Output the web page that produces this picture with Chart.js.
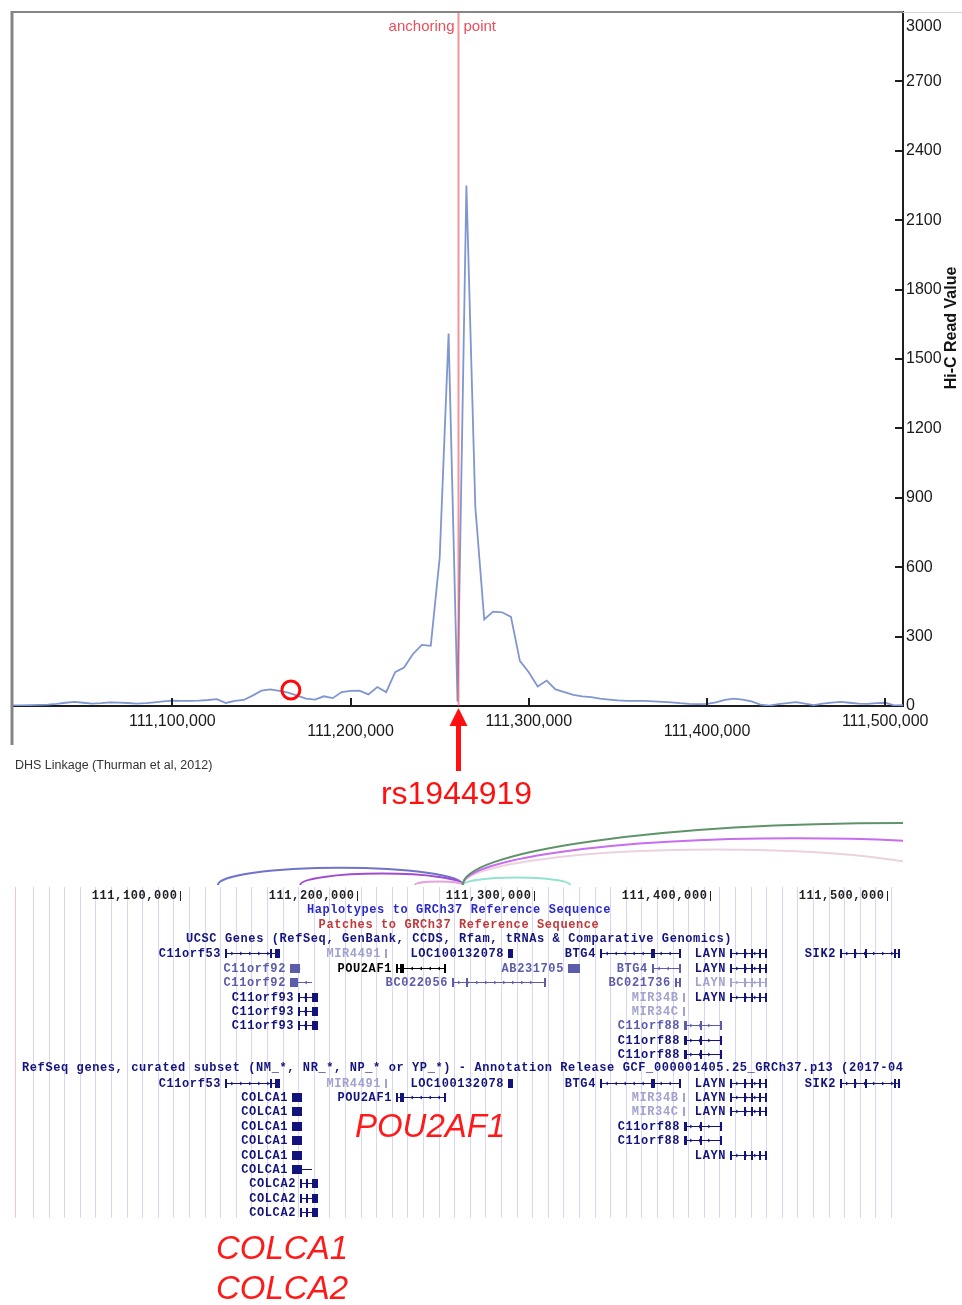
<!DOCTYPE html>
<html>
<head>
<meta charset="utf-8">
<script src="https://cdn.jsdelivr.net/npm/chart.js@4.4.1/dist/chart.umd.min.js"></script>
<style>
  html, body { margin: 0; padding: 0; background: #fff; }
  #wrap { position: relative; width: 962px; height: 1305px; overflow: hidden; background: #fff; }
  #hicChart { position: absolute; left: 0; top: 0; }
  #genesChart { position: absolute; left: 0; top: 812px; }
</style>
</head>
<body>
<div id="wrap">
  <canvas id="hicChart" width="962" height="812"></canvas>
  <canvas id="genesChart" width="962" height="493"></canvas>
</div>
<script>
// Hi-C read values in 5 kb bins around rs1944919 (chr11, kb)
var binKb = [
  111010, 111015, 111020, 111025, 111030, 111035, 111040, 111045, 111050, 111055,
  111060, 111065, 111070, 111075, 111080, 111085, 111090, 111095, 111100, 111105,
  111110, 111115, 111120, 111125, 111130, 111135, 111140, 111145, 111150, 111155,
  111160, 111165, 111170, 111175, 111180, 111185, 111190, 111195, 111200, 111205,
  111210, 111215, 111220, 111225, 111230, 111235, 111240, 111245, 111250, 111255,
  111260, 111265, 111270, 111275, 111280, 111285, 111290, 111295, 111300, 111305,
  111310, 111315, 111320, 111325, 111330, 111335, 111340, 111345, 111350, 111355,
  111360, 111365, 111370, 111375, 111380, 111385, 111390, 111395, 111400, 111405,
  111410, 111415, 111420, 111425, 111430, 111435, 111440, 111445, 111450, 111455,
  111460, 111465, 111470, 111475, 111480, 111485, 111490, 111495, 111500, 111505,
  111510
];
var hicValues = [
  3, 3, 4, 5, 6, 9, 14, 18, 14, 10,
  12, 16, 15, 13, 10, 12, 16, 20, 23, 22,
  22, 23, 26, 30, 13, 22, 26, 45, 66, 72,
  65, 58, 45, 32, 28, 42, 34, 60, 65, 66,
  50, 82, 60, 146, 166, 225, 264, 260, 640, 1610,
  20, 2250, 860, 374, 408, 405, 385, 195, 146, 84,
  110, 72, 60, 48, 42, 38, 32, 28, 24, 22,
  22, 22, 20, 18, 16, 12, 9, 8, 9, 16,
  26, 32, 28, 20, 6, 2, 8, 12, 17, 10,
  4, 10, 15, 18, 14, 10, 9, 12, 14, 3,
  4
];
var anchorPos = 111260000;
var circledPos = [111166500];
var circledValue = [69];
var xTickValues = [111100000, 111200000, 111300000, 111400000, 111500000];
var yTickValues = [0, 300, 600, 900, 1200, 1500, 1800, 2100, 2400, 2700, 3000];

// genome browser panel (chr11, GRCh37)
var rulerTicks = [111100000, 111200000, 111300000, 111400000, 111500000];
var trackTitles = [
  ['Haplotypes to GRCh37 Reference Sequence', 1, 'hap'],
  ['Patches to GRCh37 Reference Sequence', 2, 'patch'],
  ['UCSC Genes (RefSeq, GenBank, CCDS, Rfam, tRNAs & Comparative Genomics)', 3, 'track'],
  ['RefSeq genes, curated subset (NM_*, NR_*, NP_* or YP_*) - Annotation Release GCF_000001405.25_GRCh37.p13 (2017-04-12)', 12, 'trackLeft']
];
// model: [start, end, strand, exons]
var geneModels = {
  C11orf53: [111125500, 111156600, '+', [[111125500, 111126300], [111150900, 111151600], [111153800, 111156600]]],
  MIR4491: [111216000, 111216600, '+', [[111216000, 111216600]]],
  LOC100132078: [111285600, 111288400, '+', [[111285600, 111288400]]],
  BTG4: [111337600, 111382900, '-', [[111337600, 111338200], [111366400, 111368400], [111382300, 111382900]]],
  BTG4s: [111367000, 111382900, '-', [[111367000, 111367600], [111382300, 111382900]]],
  LAYN: [111411200, 111431600, '+', [[111411200, 111412600], [111419300, 111420000], [111423300, 111424000], [111427600, 111428400], [111430800, 111431600]]],
  SIK2: [111473400, 111507400, '+', [[111473400, 111474000], [111481600, 111482300], [111487300, 111488000], [111504200, 111504800], [111506400, 111507400]]],
  C11orf92a: [111162200, 111168000, '-', [[111162200, 111168000]]],
  C11orf92b: [111162200, 111174700, '-', [[111162200, 111167000]]],
  POU2AF1: [111222200, 111250000, '-', [[111222200, 111223600], [111224500, 111226700], [111249400, 111250000]]],
  AB231705: [111319500, 111326300, '+', [[111319500, 111326300]]],
  BC022056: [111253900, 111306500, '+', [[111253900, 111254500], [111262000, 111263000], [111306000, 111306500]]],
  BC021736: [111380000, 111382900, '-', [[111380000, 111380600], [111382300, 111382900]]],
  C11orf93: [111166800, 111178100, '-', [[111166800, 111167800], [111170500, 111171300], [111174600, 111178100]]],
  MIR34B: [111384300, 111384900, '+', [[111384300, 111384900]]],
  MIR34C: [111384300, 111384900, '+', [[111384300, 111384900]]],
  C11orf88: [111385200, 111406700, '+', [[111385200, 111386800], [111394000, 111394700], [111405400, 111406700]]],
  COLCA1: [111163400, 111169000, '-', [[111163400, 111169000]]],
  COLCA1b: [111163400, 111174700, '-', [[111163400, 111169000]]],
  COLCA2: [111167900, 111178100, '-', [[111167900, 111168600], [111171200, 111171900], [111174600, 111178100]]]
};
// placement: [row, model, label, tone]
var genePlacements = [
  [4, 'C11orf53', 'C11orf53', 'dark'], [4, 'MIR4491', 'MIR4491', 'light'], [4, 'LOC100132078', 'LOC100132078', 'dark'],
  [4, 'BTG4', 'BTG4', 'dark'], [4, 'LAYN', 'LAYN', 'dark'], [4, 'SIK2', 'SIK2', 'dark'],
  [5, 'C11orf92a', 'C11orf92', 'mid'], [5, 'POU2AF1', 'POU2AF1', 'black'], [5, 'AB231705', 'AB231705', 'mid'],
  [5, 'BTG4s', 'BTG4', 'mid'], [5, 'LAYN', 'LAYN', 'dark'],
  [6, 'C11orf92b', 'C11orf92', 'mid'], [6, 'BC022056', 'BC022056', 'mid'], [6, 'BC021736', 'BC021736', 'mid'], [6, 'LAYN', 'LAYN', 'light'],
  [7, 'C11orf93', 'C11orf93', 'dark'], [7, 'MIR34B', 'MIR34B', 'light'], [7, 'LAYN', 'LAYN', 'dark'],
  [8, 'C11orf93', 'C11orf93', 'dark'], [8, 'MIR34C', 'MIR34C', 'light'],
  [9, 'C11orf93', 'C11orf93', 'dark'], [9, 'C11orf88', 'C11orf88', 'mid'],
  [10, 'C11orf88', 'C11orf88', 'dark'],
  [11, 'C11orf88', 'C11orf88', 'dark'],
  [13, 'C11orf53', 'C11orf53', 'dark'], [13, 'MIR4491', 'MIR4491', 'light'], [13, 'LOC100132078', 'LOC100132078', 'dark'],
  [13, 'BTG4', 'BTG4', 'dark'], [13, 'LAYN', 'LAYN', 'dark'], [13, 'SIK2', 'SIK2', 'dark'],
  [14, 'COLCA1', 'COLCA1', 'dark'], [14, 'POU2AF1', 'POU2AF1', 'dark'], [14, 'MIR34B', 'MIR34B', 'light'], [14, 'LAYN', 'LAYN', 'dark'],
  [15, 'COLCA1', 'COLCA1', 'dark'], [15, 'MIR34C', 'MIR34C', 'light'], [15, 'LAYN', 'LAYN', 'dark'],
  [16, 'COLCA1', 'COLCA1', 'dark'], [16, 'C11orf88', 'C11orf88', 'dark'],
  [17, 'COLCA1', 'COLCA1', 'dark'], [17, 'C11orf88', 'C11orf88', 'dark'],
  [18, 'COLCA1', 'COLCA1', 'dark'], [18, 'LAYN', 'LAYN', 'dark'],
  [19, 'COLCA1b', 'COLCA1', 'dark'],
  [20, 'COLCA2', 'COLCA2', 'dark'], [21, 'COLCA2', 'COLCA2', 'dark'], [22, 'COLCA2', 'COLCA2', 'dark']
];
// DHS linkage: [from, to, colour key]
var dhsLinks = [
  [anchorPos, 111121500, 'blue'], [anchorPos, 111168000, 'purple'], [anchorPos, 111233000, 'pink'],
  [anchorPos, 111320700, 'cyan'], [anchorPos, 111546000, 'rose'], [anchorPos, 111637000, 'violet'],
  [anchorPos, 111760000, 'green']
];
var callouts = [['POU2AF1', 111241500, 16.16], ['COLCA1', 111157700, 24.65], ['COLCA2', 111157700, 27.44]];

var SANS = '"Liberation Sans", Arial, sans-serif';
var MONO = '"Liberation Mono", "DejaVu Sans Mono", monospace';
var toneColors = { dark: '#13137c', mid: '#5c5caa', light: '#a2a2d0', black: '#000000' };
var linkColors = { blue: '#6f74c9', purple: '#a24bd2', pink: '#e3a6d8', cyan: '#93e2d0', rose: '#ecd2df', violet: '#c86cf0', green: '#5f9469' };
var titleColors = { hap: '#2b2bc4', patch: '#c03a3a', track: '#13137c', trackLeft: '#13137c' };

var hicDecor = {
  id: 'hicDecor',
  afterDatasetsDraw: function (chart) {
    var ctx = chart.ctx, area = chart.chartArea;
    var ax = Math.round(chart.scales.x.getPixelForValue(anchorPos)) + 0.5;
    ctx.save();
    ctx.strokeStyle = 'rgba(236, 80, 92, 0.62)';
    ctx.lineWidth = 2;
    ctx.beginPath();
    ctx.moveTo(ax, area.top);
    ctx.lineTo(ax, area.bottom);
    ctx.stroke();
    ctx.restore();
  },
  afterDraw: function (chart) {
    var ctx = chart.ctx, area = chart.chartArea;
    var xs = chart.scales.x, ys = chart.scales.y;
    var ax = Math.round(xs.getPixelForValue(anchorPos)) + 0.5;
    ctx.save();

    // frame
    ctx.strokeStyle = '#d2d2d2';
    ctx.lineWidth = 1;
    ctx.beginPath(); ctx.moveTo(area.right, area.top + 0.5); ctx.lineTo(chart.width, area.top + 0.5); ctx.stroke();
    ctx.strokeStyle = '#858585';
    ctx.lineWidth = 2;
    ctx.beginPath(); ctx.moveTo(area.left, area.top); ctx.lineTo(area.right, area.top); ctx.stroke();
    ctx.lineWidth = 3;
    ctx.beginPath(); ctx.moveTo(area.left, area.top - 1); ctx.lineTo(area.left, 745); ctx.stroke();

    // inner tick marks
    ctx.strokeStyle = '#1e1e1e';
    ctx.lineWidth = 2;
    ys.ticks.forEach(function (t) {
      if (t.value === 0 || t.value === 3000) return;
      var y = Math.round(ys.getPixelForValue(t.value));
      ctx.beginPath(); ctx.moveTo(area.right - 8, y); ctx.lineTo(area.right, y); ctx.stroke();
    });
    xs.ticks.forEach(function (t) {
      var x = Math.round(xs.getPixelForValue(t.value));
      ctx.beginPath(); ctx.moveTo(x, area.bottom - 8); ctx.lineTo(x, area.bottom); ctx.stroke();
    });

    // anchoring point label
    ctx.fillStyle = '#ec4e5b';
    ctx.font = '15px ' + SANS;
    ctx.textBaseline = 'middle';
    ctx.textAlign = 'right';
    ctx.fillText('anchoring', ax - 4, 27);
    ctx.textAlign = 'left';
    ctx.fillText('point', ax + 5, 27);

    // y axis title, reading upwards
    ctx.save();
    ctx.translate(952, 328);
    ctx.rotate(-Math.PI / 2);
    ctx.fillStyle = '#151515';
    ctx.font = 'bold 16px ' + SANS;
    ctx.textAlign = 'center';
    ctx.fillText('Hi-C Read Value', 0, 0);
    ctx.restore();

    // SNP arrow and label
    ctx.fillStyle = '#ff1010';
    ctx.beginPath();
    ctx.moveTo(ax, area.bottom + 2);
    ctx.lineTo(ax + 9, area.bottom + 20);
    ctx.lineTo(ax - 9, area.bottom + 20);
    ctx.closePath();
    ctx.fill();
    ctx.fillRect(ax - 2.5, area.bottom + 19, 5, 46);
    ctx.font = '32px ' + SANS;
    ctx.textAlign = 'center';
    ctx.fillText('rs1944919', ax - 2, 795);

    ctx.fillStyle = '#333';
    ctx.font = '12.5px ' + SANS;
    ctx.textAlign = 'left';
    ctx.fillText('DHS Linkage (Thurman et al, 2012)', 15, 766);
    ctx.restore();
  }
};

new Chart(document.getElementById('hicChart'), {
  type: 'line',
  data: {
    datasets: [{
      label: 'Circled',
      type: 'scatter',
      data: circledPos.map(function (p, i) { return { x: p, y: circledValue[i] }; }),
      pointRadius: 9,
      pointBorderWidth: 3,
      pointBorderColor: '#ff0a0a',
      pointBackgroundColor: 'rgba(0,0,0,0)',
      order: 0
    }, {
      label: 'Hi-C Read Value',
      data: binKb.map(function (kb, i) { return { x: kb * 1000, y: hicValues[i] }; }),
      borderColor: '#8096d1',
      borderWidth: 1.8,
      pointRadius: 0,
      tension: 0,
      fill: false,
      order: 1
    }]
  },
  options: {
    responsive: false,
    animation: false,
    layout: { padding: { left: 12, top: 11, right: 0, bottom: 0 } },
    plugins: { legend: { display: false }, tooltip: { enabled: false } },
    scales: {
      x: {
        type: 'linear',
        min: 111010000,
        max: 111510000,
        afterBuildTicks: function (scale) { scale.ticks = xTickValues.map(function (v) { return { value: v }; }); },
        afterFit: function (scale) { scale.height = 106; scale.paddingLeft = 0; scale.paddingRight = 0; },
        grid: { display: false, drawTicks: false },
        border: { display: true, color: '#1e1e1e', width: 2 },
        ticks: {
          padding: 11,
          maxRotation: 0,
          autoSkip: false,
          color: '#1a1a1a',
          font: { family: SANS, size: 16, lineHeight: 0.625 },
          callback: function (v) {
            var s = Number(v).toLocaleString('en-US');
            return Math.round(v / 100000) % 2 === 0 ? ['', s] : s;
          }
        }
      },
      y: {
        type: 'linear',
        position: 'right',
        min: 0,
        max: 3000,
        afterBuildTicks: function (scale) { scale.ticks = yTickValues.map(function (v) { return { value: v }; }); },
        afterFit: function (scale) { scale.width = 59; scale.paddingTop = 0; scale.paddingBottom = 0; },
        grid: { display: false, drawTicks: false },
        border: { display: true, color: '#1e1e1e', width: 2 },
        ticks: {
          padding: 3,
          color: '#1a1a1a',
          font: function (c) {
            return { family: SANS, size: 16, lineHeight: (c.tick && c.tick.value === 3000) ? 1.875 : 1.2 };
          },
          callback: function (v) { return v === 3000 ? ['', '3000'] : String(v); }
        }
      }
    }
  },
  plugins: [hicDecor]
});

function drawGene(ctx, xs, y, model, label, tone) {
  var x0 = xs.getPixelForValue(model[0]), x1 = xs.getPixelForValue(model[1]);
  var col = toneColors[tone];
  ctx.fillStyle = col;
  ctx.strokeStyle = col;
  ctx.lineWidth = 1;
  if (x1 - x0 > 3) {
    ctx.beginPath(); ctx.moveTo(x0, y + 0.5); ctx.lineTo(x1, y + 0.5); ctx.stroke();
    // small strand ticks on introns
    var dir = model[2] === '+' ? 1 : -1;
    for (var cx = x0 + 7; cx < x1 - 5; cx += 9) {
      ctx.beginPath();
      ctx.moveTo(cx - dir, y - 1); ctx.lineTo(cx + dir, y + 0.5); ctx.lineTo(cx - dir, y + 2);
      ctx.stroke();
    }
  }
  model[3].forEach(function (ex) {
    var a = xs.getPixelForValue(ex[0]), b = xs.getPixelForValue(ex[1]);
    ctx.fillRect(Math.round(a), y - 4, Math.max(2, Math.round(b - a)), 9);
  });
  ctx.textAlign = 'right';
  ctx.fillText(label, x0 - 4, y + 1);
}

var browserPlugin = {
  id: 'browser',
  afterDraw: function (chart) {
    var ctx = chart.ctx, xs = chart.scales.x, ys = chart.scales.y, area = chart.chartArea;
    ctx.save();

    // pixel guide lines
    var gTop = ys.getPixelForValue(-0.63), gBot = ys.getPixelForValue(22.4);
    ctx.lineWidth = 1;
    ctx.strokeStyle = '#f5c4c4';
    ctx.beginPath(); ctx.moveTo(area.left + 0.5, gTop); ctx.lineTo(area.left + 0.5, gBot); ctx.stroke();
    ctx.strokeStyle = '#d7d7f5';
    for (var gx = area.left + 18; gx < area.right - 8; gx += 15.6) {
      ctx.beginPath(); ctx.moveTo(Math.round(gx) + 0.5, gTop); ctx.lineTo(Math.round(gx) + 0.5, gBot); ctx.stroke();
    }

    // DHS linkage arcs
    ctx.save();
    ctx.beginPath(); ctx.rect(area.left, area.top, area.right - area.left, area.bottom - area.top); ctx.clip();
    var baseY = ys.getPixelForValue(-0.77);
    ctx.lineWidth = 2;
    dhsLinks.forEach(function (l) {
      var a = xs.getPixelForValue(l[0]), b = xs.getPixelForValue(l[1]);
      var span = Math.abs(b - a);
      ctx.strokeStyle = linkColors[l[2]];
      ctx.beginPath();
      ctx.ellipse((a + b) / 2, baseY, span / 2, span * 0.07, 0, Math.PI, 2 * Math.PI);
      ctx.stroke();
    });
    ctx.restore();

    ctx.textBaseline = 'middle';
    ctx.letterSpacing = '0.6px';

    // ruler
    ctx.font = 'bold 12px ' + MONO;
    ctx.fillStyle = '#222';
    ctx.strokeStyle = '#222';
    var ry = ys.getPixelForValue(0);
    rulerTicks.forEach(function (p) {
      var x = Math.round(xs.getPixelForValue(p)) + 0.5;
      ctx.textAlign = 'right';
      ctx.fillText(Number(p).toLocaleString('en-US'), x - 3, ry);
      ctx.beginPath(); ctx.moveTo(x, ry - 5); ctx.lineTo(x, ry + 5); ctx.stroke();
    });

    // track titles
    ctx.font = 'bold 12px ' + MONO;
    trackTitles.forEach(function (t) {
      ctx.fillStyle = titleColors[t[2]];
      var y = ys.getPixelForValue(t[1]);
      if (t[2] === 'trackLeft') {
        ctx.save();
        ctx.beginPath(); ctx.rect(area.left, 0, area.right - area.left, chart.height); ctx.clip();
        ctx.textAlign = 'left';
        ctx.fillText(t[0], area.left + 7, y);
        ctx.restore();
      } else {
        ctx.textAlign = 'center';
        ctx.fillText(t[0], (area.left + area.right) / 2, y);
      }
    });

    // genes
    ctx.font = 'bold 12px ' + MONO;
    genePlacements.forEach(function (g) {
      drawGene(ctx, xs, Math.round(ys.getPixelForValue(g[0])), geneModels[g[1]], g[2], g[3]);
    });

    // red gene call-outs
    ctx.letterSpacing = '0px';
    ctx.font = 'italic 33px ' + SANS;
    ctx.fillStyle = '#ff1a1a';
    ctx.textAlign = 'center';
    callouts.forEach(function (c) {
      ctx.fillText(c[0], xs.getPixelForValue(c[1]), ys.getPixelForValue(c[2]));
    });
    ctx.restore();
  }
};

new Chart(document.getElementById('genesChart'), {
  type: 'scatter',
  data: { datasets: [] },
  options: {
    responsive: false,
    animation: false,
    layout: { padding: { left: 15, right: 59, top: 0, bottom: 0 } },
    plugins: { legend: { display: false }, tooltip: { enabled: false } },
    scales: {
      x: { type: 'linear', min: 111006650, max: 111509050, display: false },
      y: { type: 'linear', min: -5.85, max: 28.48, reverse: true, display: false }
    }
  },
  plugins: [browserPlugin]
});
</script>
</body>
</html>
